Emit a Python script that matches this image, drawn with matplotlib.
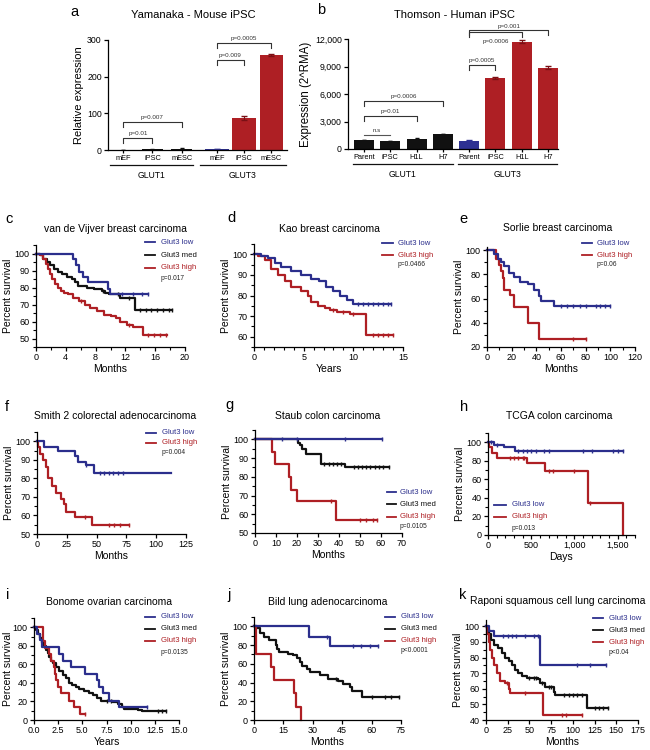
import numpy as np
import matplotlib
matplotlib.use("Agg")
import matplotlib.pyplot as plt
from matplotlib.lines import Line2D
from matplotlib.ticker import AutoMinorLocator

plt.rcParams['font.family'] = ['Liberation Sans', 'DejaVu Sans']

RED = '#AE1F24'
BLUE = '#2B2E8C'
BLACK = '#111111'

# ---- panel a / b : bar charts ----
A_CATS = ['mEF', 'iPSC', 'mESC']
A_GLUT1 = [1.0, 1.5, 3.5]
A_GLUT1_ERR = [0.3, 0.5, 0.8]
A_GLUT3 = [2.0, 87.0, 258.0]
A_GLUT3_ERR = [0.5, 5.0, 3.0]

B_CATS = ['Parent', 'iPSC', 'H1L', 'H7']
B_GLUT1 = [1000, 850, 1120, 1650]
B_GLUT1_ERR = [30, 30, 30, 40]
B_GLUT3 = [900, 7750, 11700, 8850]
B_GLUT3_ERR = [40, 80, 170, 160]

# ---- survival curves: (time, percent) step points, last point = end of follow-up ----
c_low = [(0, 100), (5.0, 97), (5.4, 93), (5.8, 89), (6.3, 86), (7.0, 83), (9.6, 79), (9.9, 76), (15.0, 76)]
c_low_cens = [11.5, 13.0, 14.2, 15.0]
c_med = [(0, 100), (0.6, 99), (1.0, 97), (1.5, 95), (1.9, 93), (2.4, 91), (2.9, 89), (3.5, 88), (4.2, 86),
         (4.8, 85), (5.2, 83), (5.7, 81), (6.8, 80), (7.8, 79), (8.8, 78), (9.3, 77), (9.8, 76), (11.3, 74),
         (13.3, 67), (18.3, 67)]
c_med_cens = [9.0, 11.0, 12.5, 14.0, 14.8, 15.5, 16.3, 17.0, 17.8, 18.3]
c_high = [(0, 100), (0.5, 99), (1.0, 97), (1.3, 94), (1.6, 91), (1.9, 88), (2.2, 85), (2.5, 82), (2.9, 80),
          (3.3, 78), (3.8, 77), (4.3, 76), (5.0, 74), (5.8, 72), (6.6, 70), (7.3, 68), (8.2, 66), (9.1, 64),
          (10.0, 63), (10.8, 62), (11.3, 60), (12.2, 58), (13.0, 57), (14.3, 52), (17.6, 52)]
c_high_cens = [6.0, 12.5, 15.0, 15.8, 16.6, 17.4]

d_low = [(0, 100), (0.7, 99), (1.4, 98), (2.1, 96), (2.7, 94), (3.7, 92), (4.7, 90), (5.7, 88), (6.5, 87),
         (7.2, 84), (8.0, 82), (8.7, 80), (9.4, 78), (10.0, 76), (13.8, 76)]
d_low_cens = [10.5, 11.0, 11.5, 12.0, 12.5, 13.0, 13.5, 13.8]
d_high = [(0, 100), (0.4, 99), (1.1, 97), (1.7, 93), (2.4, 90), (3.1, 87), (3.7, 84), (4.7, 82), (5.4, 80),
          (5.7, 77), (6.4, 75), (7.1, 74), (7.7, 73), (8.4, 72), (9.7, 71), (11.3, 61), (14.0, 61)]
d_high_cens = [8.0, 9.0, 10.0, 12.0, 12.5, 13.0, 13.5, 14.0]

e_low = [(0, 100), (3, 100), (6, 97), (8.6, 93), (11, 90), (14, 87), (18, 81), (22, 78), (27, 74), (33, 72),
         (38, 67), (42, 62), (44, 58), (54, 54), (100, 54)]
e_low_cens = [60, 65, 70, 75, 80, 88, 92, 96, 100]
e_high = [(0, 100), (3, 100), (7, 93), (10, 88), (11, 83), (12.6, 77), (14, 67), (19, 63), (22, 53), (33, 40),
          (42, 27), (80, 27)]
e_high_cens = [70, 80]

f_low = [(0, 100), (6, 97), (18, 95), (32, 92), (34, 89), (41, 87), (48, 83), (112, 83)]
f_low_cens = [41, 53, 56, 60, 64, 68, 72]
f_high = [(0, 100), (1, 97), (2.8, 93), (4.7, 90), (7.5, 86), (9, 80), (13, 76), (16, 72), (20, 69), (23, 66),
          (24, 62), (32, 59), (46, 55), (77, 55)]
f_high_cens = [40, 60, 65, 70, 77]

g_low = [(0, 100), (60.5, 100)]
g_low_cens = [12.8, 19.8, 43, 60.5]
g_med = [(0, 100), (20.6, 98), (21.5, 97), (22.5, 95), (24.5, 92), (31.5, 87), (43, 85), (63.6, 85)]
g_med_cens = [33, 35, 37, 39, 41, 47, 49, 51, 53, 55, 57, 59, 61, 63.6]
g_high = [(0, 100), (8.1, 93), (9.7, 87), (16, 80), (17, 73), (20, 67), (38.6, 57), (58, 57)]
g_high_cens = [36, 50, 53, 56, 58]

h_low = [(0, 100), (68, 97), (181, 95), (314, 91), (1557, 91)]
h_low_cens = [40, 100, 350, 400, 450, 500, 550, 650, 700, 1100, 1200, 1450, 1500, 1557]
h_high = [(0, 100), (15, 95), (45, 88), (106, 83), (450, 78), (654, 69), (1160, 34), (1557, 0)]
h_high_cens = [250, 300, 350, 400, 420, 700, 750, 1000, 1180]

i_low = [(0, 100), (0.3, 93), (0.6, 86), (0.8, 79), (2.6, 71), (3.0, 64), (3.8, 57), (5.3, 50), (6.5, 43),
         (6.7, 36), (7.1, 29), (7.8, 21), (8.8, 14), (11.7, 14)]
i_low_cens = [11.7]
i_med = [(0, 100), (0.2, 97), (0.4, 93), (0.6, 88), (0.8, 83), (1.0, 80), (1.2, 76), (1.4, 72), (1.6, 68),
         (1.8, 64), (2.0, 61), (2.3, 57), (2.6, 53), (3.0, 49), (3.3, 45), (3.6, 40), (3.9, 38), (4.3, 36),
         (4.7, 33), (5.2, 31), (5.7, 29), (6.1, 27), (6.5, 24), (6.9, 21), (7.5, 20), (8.2, 19), (8.7, 17),
         (9.1, 14), (9.3, 12), (10.8, 11), (11.2, 10), (13.7, 10)]
i_med_cens = [7.6, 8.0, 12.8, 13.2, 13.7]
i_high = [(0, 100), (0.9, 85), (1.1, 78), (1.5, 71), (1.8, 64), (2.1, 57), (2.2, 50), (2.3, 43), (2.5, 36),
          (2.8, 29), (3.6, 21), (4.1, 14), (4.8, 7), (5.3, 7)]
i_high_cens = [5.3]

j_low = [(0, 100), (28.3, 89), (38.9, 79), (63.5, 79)]
j_low_cens = [37, 50.7, 54.5, 59, 63.5]
j_med = [(0, 100), (1.5, 98), (3.2, 93), (5, 89), (7.5, 85), (11, 80), (11.7, 76), (12.5, 73), (17.6, 71),
         (20, 69), (22, 66), (23.6, 62), (24.4, 58), (27, 55), (28.7, 51), (33.8, 48), (38, 44), (43, 42),
         (45.6, 38), (49, 35), (50, 31), (55, 25), (74, 25)]
j_med_cens = [42, 60, 67, 70, 74]
j_high = [(0, 100), (1.2, 71), (8.8, 57), (10, 43), (20.2, 29), (21.5, 14), (24, 0)]
j_high_cens = []

k_low = [(0, 100), (4, 97), (9.5, 94), (62, 75), (138, 75)]
k_low_cens = [20, 25, 30, 35, 45, 55, 60, 105, 120, 138]
k_med = [(0, 100), (1, 98), (3, 95), (5.7, 91), (9.5, 88), (13.4, 86), (18, 83), (22, 80), (26, 78), (30, 75),
         (33.6, 72), (37.4, 70), (41, 68), (47, 67), (60, 66), (62, 64), (68, 61), (78, 58), (80, 56),
         (116, 48), (141, 48)]
k_med_cens = [50, 55, 58, 65, 72, 75, 90, 95, 100, 105, 110, 125, 130, 135, 141]
k_high = [(0, 100), (1.1, 95), (3, 90), (5, 85), (6.9, 80), (8.8, 75), (12.6, 70), (16.4, 65), (22, 64),
          (26, 60), (28, 57), (66, 43), (110, 43)]
k_high_cens = [24, 45, 87, 92, 110]

W, H = 650, 750
fig = plt.figure(figsize=(6.5, 7.5), dpi=100)


def box(l, t, r, b):
    return fig.add_axes([l / W, 1 - b / H, (r - l) / W, (b - t) / H])


def ftext(x, y, s, **kw):
    kw.setdefault('va', 'center')
    fig.text(x / W, 1 - y / H, s, **kw)


def fline(x0, x1, y, color, lw=1.3):
    fig.add_artist(Line2D([x0 / W, x1 / W], [1 - y / H] * 2, color=color, lw=lw))


def style(ax, fs=6.5):
    for s in ['top', 'right']:
        ax.spines[s].set_visible(False)
    for s in ['left', 'bottom']:
        ax.spines[s].set_linewidth(0.9)
    ax.tick_params(direction='out', length=3, width=0.9, labelsize=fs, pad=1.5)
    ax.tick_params(which='minor', length=2, width=0.8)


def km(ax, pts, cens, color):
    t = np.array([p[0] for p in pts], dtype=float)
    s = np.array([p[1] for p in pts], dtype=float)
    ax.plot(t, s, drawstyle='steps-post', color=color, lw=1.6, clip_on=False)
    if len(cens):
        idx = np.searchsorted(t, cens, side='right') - 1
        ax.plot(cens, s[idx], ls='none', marker='|', ms=3.5, mew=1.0, color=color, clip_on=False)


def km_panel(rect, curves, xlim, xstep, ylim, yticks, xlabel, xminor=1, xfmt=None, ylpad=1):
    ax = box(*rect)
    style(ax)
    for pts, cens, col in curves:
        km(ax, pts, cens, col)
    ax.set_xlim(xlim)
    ax.set_ylim(ylim)
    xt = np.arange(xlim[0], xlim[1] + 1e-9, xstep)
    ax.set_xticks(xt)
    if xfmt:
        ax.set_xticklabels([xfmt(v) for v in xt])
    ax.set_yticks(yticks)
    if xminor > 1:
        ax.xaxis.set_minor_locator(AutoMinorLocator(xminor))
    ax.yaxis.set_minor_locator(AutoMinorLocator(2))
    ax.set_xlabel(xlabel, fontsize=7.5, labelpad=1)
    ax.set_ylabel('Percent survival', fontsize=7.5, labelpad=ylpad)
    return ax


def legend(entries, x0, x1, xt, ys, p, py):
    for (label, col), y in zip(entries, ys):
        fline(x0, x1, y, col)
        ftext(xt, y, label, color=col, fontsize=5.6, ha='left')
    ftext(xt, py, p, fontsize=4.8, ha='left', color='#222222')


LOW = ('Glut3 low', BLUE)
MED = ('Glut3 med', BLACK)
HIGH = ('Glut3 high', RED)


def bracket(ax, x0, x1, y, leg, label, below=False, legs=True, fs=4.5):
    if legs:
        ax.plot([x0, x0, x1, x1], [y - leg, y, y, y - leg], color='#333333', lw=0.8, clip_on=False)
    else:
        ax.plot([x0, x1], [y, y], color='#555555', lw=0.8, clip_on=False)
    dy = -leg * 1.3 if below else leg * 0.35
    ax.text((x0 + x1) / 2, y + dy, label, ha='center', va='top' if below else 'bottom',
            fontsize=fs, color='#333333')


def groups(ax, spans, names, yline, ylab):
    tr = ax.get_xaxis_transform()
    for (x0, x1), name in zip(spans, names):
        ax.plot([x0, x1], [yline, yline], color=BLACK, lw=0.9, transform=tr, clip_on=False)
        ax.text((x0 + x1) / 2, ylab, name, transform=tr, ha='center', va='center', fontsize=6.2)


# ---------------- panel a ----------------
ax = box(108, 40, 287, 150)
style(ax, fs=6.3)
p1 = [0, 1, 2]
p3 = [3.2, 4.13, 5.06]
ax.bar(p1, A_GLUT1, width=0.72, color=BLACK, yerr=A_GLUT1_ERR, ecolor=BLACK, capsize=1.5,
       error_kw=dict(lw=0.8))
for x, v, e, c in zip(p3, A_GLUT3, A_GLUT3_ERR, ['#2E3192', RED, RED]):
    ax.bar(x, v, width=0.8, color=c, yerr=e, ecolor='#7a1015' if c == RED else c, capsize=2,
           error_kw=dict(lw=0.8))
ax.set_xlim(-0.52, 5.6)
ax.set_ylim(0, 300)
ax.set_yticks([0, 100, 200, 300])
ax.set_xticks(p1 + p3)
ax.set_xticklabels(A_CATS + A_CATS, fontsize=5.3)
ax.tick_params(axis='x', length=2)
ax.set_ylabel('Relative expression', fontsize=8, labelpad=2)
bracket(ax, 0, 1, 33, 14, 'p=0.01')
bracket(ax, 0, 2, 76, 14, 'p=0.007')
bracket(ax, p3[0], p3[1], 245, 14, 'p=0.009')
bracket(ax, p3[0], p3[2], 292, 14, 'p=0.0005')
groups(ax, [(-0.45, 2.4), (2.64, 5.55)], ['GLUT1', 'GLUT3'], -0.136, -0.236)
ftext(193, 15, 'Yamanaka - Mouse iPSC', fontsize=8, ha='center')
ftext(70, 12, 'a', fontsize=10.5, ha='left')

# ---------------- panel b ----------------
ax = box(348, 39, 558, 149)
style(ax, fs=6.3)
q1 = [0, 1, 2, 3]
q3 = [4, 5, 6, 7]
ax.bar(q1, B_GLUT1, width=0.76, color=BLACK, yerr=B_GLUT1_ERR, ecolor=BLACK, capsize=1.5,
       error_kw=dict(lw=0.8))
for x, v, e, c in zip(q3, B_GLUT3, B_GLUT3_ERR, ['#2E3192', RED, RED, RED]):
    ax.bar(x, v, width=0.76, color=c, yerr=e, ecolor='#7a1015' if c == RED else c, capsize=2,
           error_kw=dict(lw=0.8))
ax.set_xlim(-0.61, 7.38)
ax.set_ylim(0, 12000)
yt = [0, 3000, 6000, 9000, 12000]
ax.set_yticks(yt)
ax.set_yticklabels([f'{v:,}' for v in yt])
ax.set_xticks(q1 + q3)
ax.set_xticklabels(B_CATS + B_CATS, fontsize=5.3)
ax.tick_params(axis='x', length=2)
ax.set_ylabel('Expression (2^RMA)', fontsize=8.3, labelpad=2)
bracket(ax, 0, 1, 1530, 545, 'n.s', legs=False)
bracket(ax, 0, 2, 3600, 545, 'p=0.01')
bracket(ax, 0, 3, 5270, 545, 'p=0.0006')
bracket(ax, 4, 5, 9160, 545, 'p=0.0005')
bracket(ax, 4, 6, 12730, 545, 'p=0.0006', below=True)
bracket(ax, 4, 7, 12950, 545, 'p=0.001')
groups(ax, [(-0.42, 3.38), (3.57, 7.34)], ['GLUT1', 'GLUT3'], -0.136, -0.236)
ftext(455, 15, 'Thomson - Human iPSC', fontsize=8, ha='center')
ftext(317, 10, 'b', fontsize=10.5, ha='left')

# ---------------- panel c ----------------
km_panel((36, 245, 185, 347), [(c_med, c_med_cens, BLACK), (c_high, c_high_cens, RED), (c_low, c_low_cens, BLUE)],
         (0, 20), 4, (45, 105), np.arange(50, 101, 10), 'Months', xminor=2)
legend([LOW, MED, HIGH], 145, 155, 161, [242, 255, 268], 'p=0.017', 278)
ftext(115, 229, 'van de Vijver breast carcinoma', fontsize=7.5, ha='center')
ftext(5, 219, 'c', fontsize=10.5, ha='left')

# ---------------- panel d ----------------
km_panel((254, 244, 403, 347), [(d_high, d_high_cens, RED), (d_low, d_low_cens, BLUE)],
         (0, 15), 5, (55, 105), np.arange(60, 101, 10), 'Years', xminor=5)
legend([LOW, HIGH], 382, 393, 398, [243, 255], 'p=0.0466', 264)
ftext(329, 229, 'Kao breast carcinoma', fontsize=7.5, ha='center')
ftext(227, 218, 'd', fontsize=10.5, ha='left')

# ---------------- panel e ----------------
km_panel((487, 247, 635, 347), [(e_high, e_high_cens, RED), (e_low, e_low_cens, BLUE)],
         (0, 120), 20, (20, 102.5), np.arange(20, 101, 20), 'Months', xminor=2)
legend([LOW, HIGH], 582, 592, 597, [243, 255], 'p=0.06', 265)
ftext(558, 228, 'Sorlie breast carcinoma', fontsize=7.5, ha='center')
ftext(459, 219, 'e', fontsize=10.5, ha='left')

# ---------------- panel f ----------------
km_panel((37, 432, 186, 534), [(f_high, f_high_cens, RED), (f_low, f_low_cens, BLUE)],
         (0, 125), 25, (50, 105), np.arange(50, 101, 10), 'Months')
legend([LOW, HIGH], 146, 156, 162, [433, 443], 'p=0.004', 453)
ftext(115, 416, 'Smith 2 colorectal adenocarcinoma', fontsize=7.5, ha='center')
ftext(5, 407, 'f', fontsize=10.5, ha='left')

# ---------------- panel g ----------------
km_panel((255, 430, 402, 533), [(g_med, g_med_cens, BLACK), (g_high, g_high_cens, RED), (g_low, g_low_cens, BLUE)],
         (0, 70), 10, (50, 105), np.arange(50, 101, 10), 'Months')
legend([LOW, MED, HIGH], 387, 396, 400, [492, 504, 517], 'p=0.0105', 527)
ftext(328, 416, 'Staub colon carcinoma', fontsize=7.5, ha='center')
ftext(225, 405, 'g', fontsize=10.5, ha='left')

# ---------------- panel h ----------------
km_panel((488, 433, 635, 535), [(h_high, h_high_cens, RED), (h_low, h_low_cens, BLUE)],
         (0, 1700), 500, (0, 110), np.arange(0, 101, 20), 'Days', xminor=5,
         xfmt=lambda v: f'{int(v):,}')
legend([LOW, HIGH], 494, 506, 512, [505, 517], 'p=0.013', 528)
ftext(559, 416, 'TCGA colon carcinoma', fontsize=7.5, ha='center')
ftext(460, 407, 'h', fontsize=10.5, ha='left')

# ---------------- panel i ----------------
km_panel((34, 618, 179, 720), [(i_med, i_med_cens, BLACK), (i_high, i_high_cens, RED), (i_low, i_low_cens, BLUE)],
         (0, 15), 2.5, (0, 110), np.arange(0, 101, 20), 'Years', xfmt=lambda v: f'{v:.1f}', ylpad=0)
legend([LOW, MED, HIGH], 145, 155, 161, [617, 629, 641], 'p=0.0135', 653)
ftext(109, 602, 'Bonome ovarian carcinoma', fontsize=7.5, ha='center')
ftext(6, 595, 'i', fontsize=10.5, ha='left')

# ---------------- panel j ----------------
km_panel((254, 617, 401, 720), [(j_med, j_med_cens, BLACK), (j_high, j_high_cens, RED), (j_low, j_low_cens, BLUE)],
         (0, 75), 15, (0, 110), np.arange(0, 101, 20), 'Months')
legend([LOW, MED, HIGH], 385, 395, 401, [617, 629, 641], 'p<0.0001', 651)
ftext(328, 602, 'Bild lung adenocarcinoma', fontsize=7.5, ha='center')
ftext(227, 595, 'j', fontsize=10.5, ha='left')

# ---------------- panel k ----------------
km_panel((486, 620, 638, 720), [(k_med, k_med_cens, BLACK), (k_high, k_high_cens, RED), (k_low, k_low_cens, BLUE)],
         (0, 175), 25, (40, 104), np.arange(40, 101, 10), 'Months')
legend([LOW, MED, HIGH], 593, 603, 609, [618, 630, 642], 'p<0.04', 652)
ftext(558, 601, 'Raponi squamous cell lung carcinoma', fontsize=7.5, ha='center')
ftext(459, 595, 'k', fontsize=10.5, ha='left')

fig.savefig('out.png', dpi=100)
